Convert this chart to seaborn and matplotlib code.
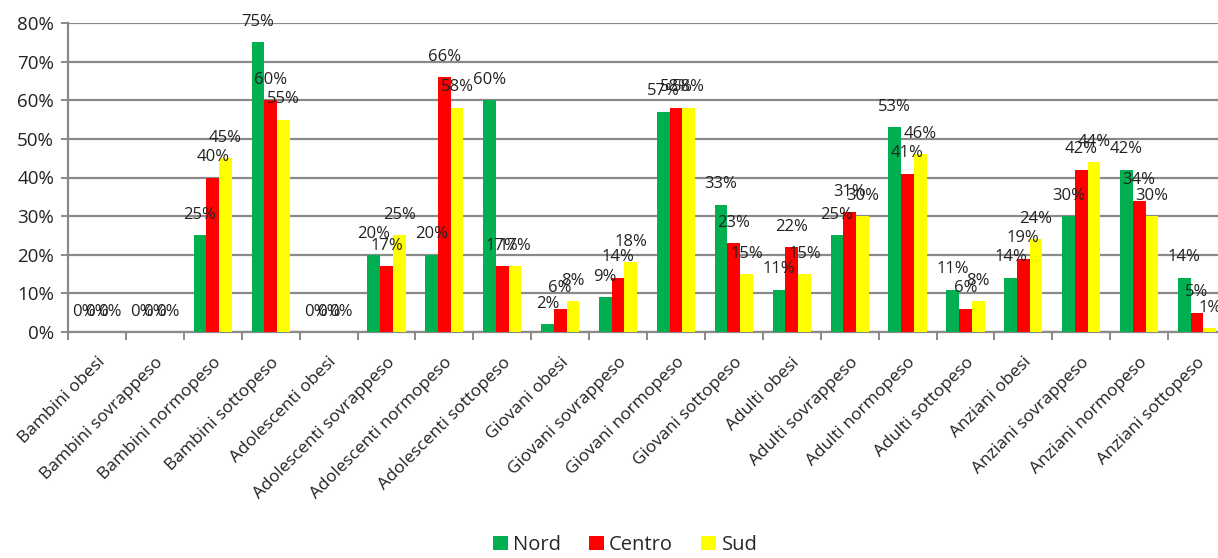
import matplotlib
matplotlib.use("Agg")
import matplotlib.pyplot as plt
import seaborn as sns
import pandas as pd
from matplotlib.ticker import PercentFormatter, FixedLocator

categories = [
    "Bambini obesi", "Bambini sovrappeso", "Bambini normopeso", "Bambini sottopeso",
    "Adolescenti obesi", "Adolescenti sovrappeso", "Adolescenti normopeso", "Adolescenti sottopeso",
    "Giovani obesi", "Giovani sovrappeso", "Giovani normopeso", "Giovani sottopeso",
    "Adulti obesi", "Adulti sovrappeso", "Adulti normopeso", "Adulti sottopeso",
    "Anziani obesi", "Anziani sovrappeso", "Anziani normopeso", "Anziani sottopeso",
]
regions = ["Nord", "Centro", "Sud"]
nord   = [0, 0, 25, 75, 0, 20, 20, 60, 2, 9, 57, 33, 11, 25, 53, 11, 14, 30, 42, 14]
centro = [0, 0, 40, 60, 0, 17, 66, 17, 6, 14, 58, 23, 22, 31, 41, 6, 19, 42, 34, 5]
sud    = [0, 0, 45, 55, 0, 25, 58, 17, 8, 18, 58, 15, 15, 30, 46, 8, 24, 44, 30, 1]
colors = ["#00B050", "#FF0000", "#FFFF00"]

rows = []
for r, vals in zip(regions, [nord, centro, sud]):
    for c, v in zip(categories, vals):
        rows.append({"categoria": c, "valore": v, "area": r})
df = pd.DataFrame(rows)

sns.set_style("white")
plt.rcParams["font.family"] = ["Open Sans", "DejaVu Sans"]

fig = plt.figure(figsize=(12.18, 5.58), dpi=100)
ax = fig.add_axes([68 / 1218, 1 - 332 / 558, (1226 - 68) / 1218, (332 - 23) / 558])

sns.barplot(data=df, x="categoria", y="valore", hue="area", order=categories,
            hue_order=regions, palette=colors, width=0.66, gap=0, saturation=1,
            errorbar=None, ax=ax, zorder=3, linewidth=0)

for cont in ax.containers:
    vals = [int(round(b.get_height())) for b in cont]
    ax.bar_label(cont, labels=[f"{v}%" for v in vals], padding=9,
                 fontsize=12, color="#222222")

ax.set_ylim(0, 80)
ax.set_xlim(-0.5, 19.5)
ax.yaxis.set_major_locator(FixedLocator(list(range(0, 81, 10))))
ax.yaxis.set_major_formatter(PercentFormatter(xmax=100, decimals=0))
ax.grid(axis="y", color="#8a8a8a", linewidth=1.6, zorder=0)
ax.set_axisbelow(True)
for s in ["top", "right"]:
    ax.spines[s].set_visible(False)
for s in ["left", "bottom"]:
    ax.spines[s].set_color("#8a8a8a")
    ax.spines[s].set_linewidth(1.6)

ax.tick_params(axis="y", labelsize=13.5, length=5, color="#8a8a8a", width=1.4,
               left=True, pad=5, labelcolor="#222222")
ax.set_xticks(range(len(categories)))
ax.set_xticklabels(categories, rotation=45, ha="right", rotation_mode="anchor",
                   fontsize=12.5, color="#222222")
ax.tick_params(axis="x", which="major", length=0, pad=16)
ax.set_xticks([i - 0.5 for i in range(len(categories) + 1)], minor=True)
ax.tick_params(axis="x", which="minor", length=6, color="#8a8a8a", width=1.4, bottom=True)
ax.set_xlabel("")
ax.set_ylabel("")

handles, labels = ax.get_legend_handles_labels()
ax.get_legend().remove()
fig.legend(handles, labels, loc="center", bbox_to_anchor=(625 / 1218, 1 - 545 / 558),
           ncol=3, frameon=False, fontsize=14.5, handlelength=0.75, handleheight=0.75,
           handletextpad=0.25, columnspacing=1.4)

fig.savefig("out.png", dpi=100)
